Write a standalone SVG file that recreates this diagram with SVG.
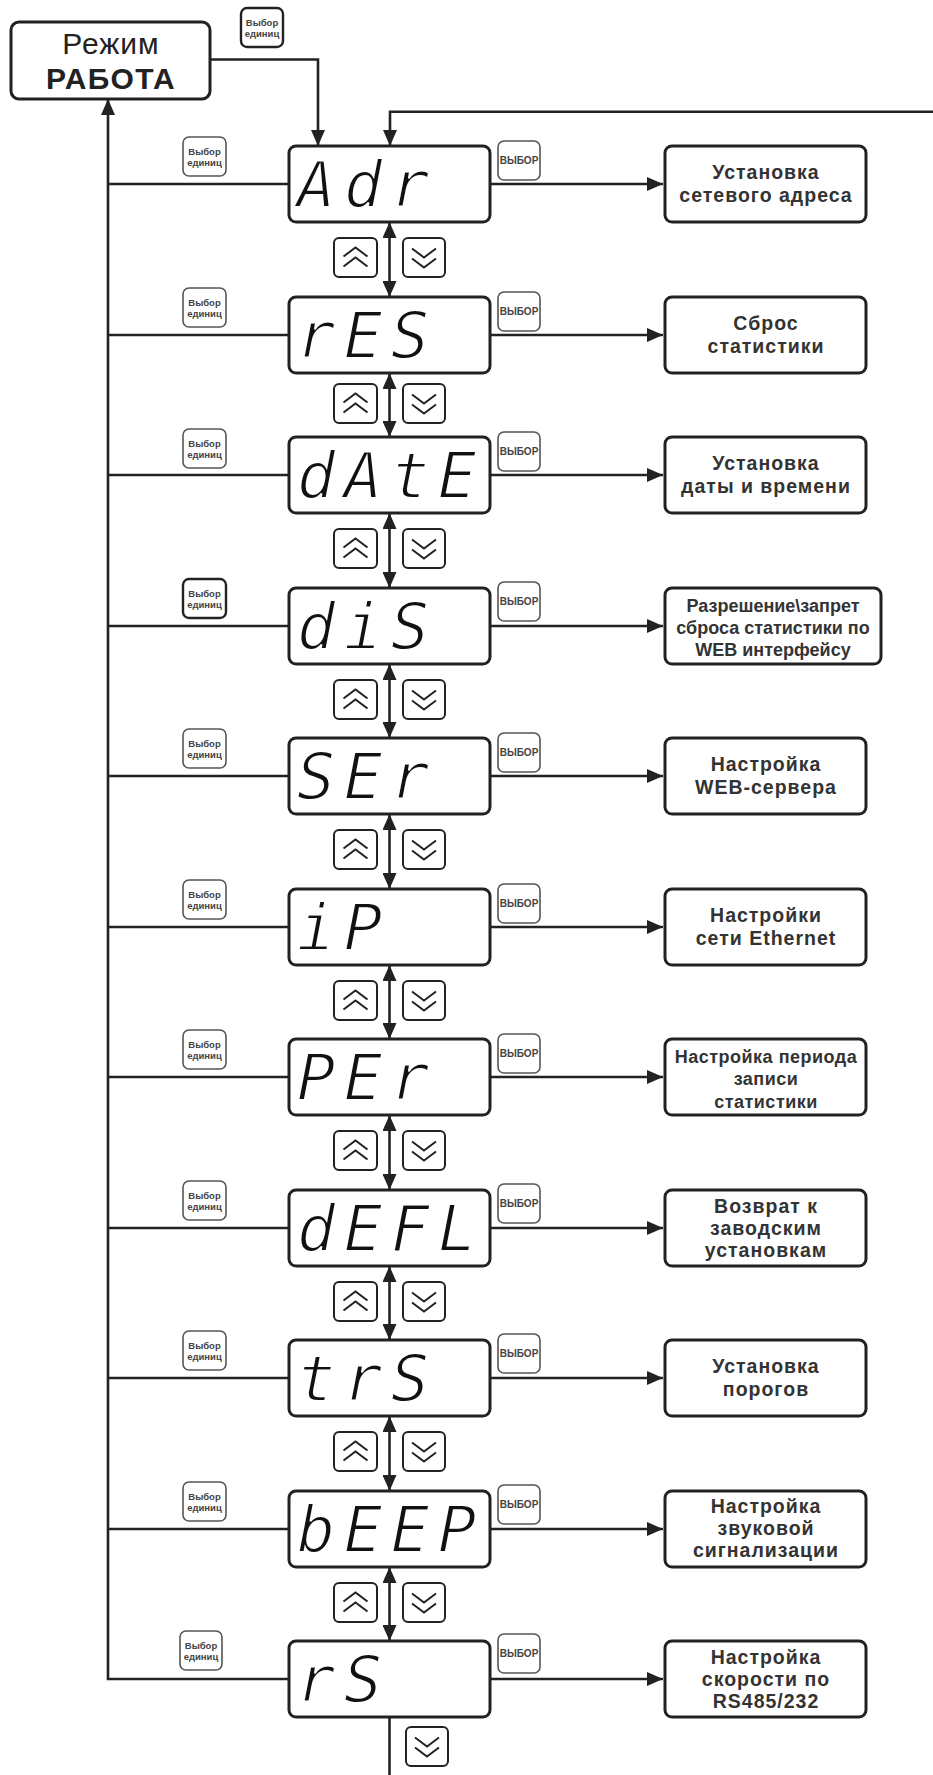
<svg xmlns="http://www.w3.org/2000/svg" width="933" height="1775" viewBox="0 0 933 1775">
<defs>
<style>
.ln{fill:none;stroke:#222;stroke-width:2.6}
.box{fill:#fff;stroke:#222;stroke-width:3}
.btn{fill:#fff;stroke:#555;stroke-width:1.6}
.btnd{fill:#fff;stroke:#222;stroke-width:2.4}
.ub{fill:#fff;stroke:#222;stroke-width:2}
.ico{fill:none;stroke:#222;stroke-width:2}
.bt{font-family:"Liberation Sans",Arial,sans-serif;font-weight:bold;font-size:9.5px;fill:#444;text-anchor:middle}
.bt2{font-family:"Liberation Sans",Arial,sans-serif;font-weight:bold;font-size:10px;fill:#444;text-anchor:middle}
.seg{font-family:"DejaVu Sans Mono",monospace;font-style:oblique;font-size:64px;fill:#111;stroke:#fff;stroke-width:1.8;text-anchor:middle}
.lbl{font-family:"Liberation Sans",Arial,sans-serif;font-weight:bold;font-size:19.5px;letter-spacing:1px;fill:#333;text-anchor:middle}
.lbs{font-family:"Liberation Sans",Arial,sans-serif;font-weight:bold;font-size:18px;fill:#333;text-anchor:middle}
.mode{font-family:"Liberation Sans",Arial,sans-serif;fill:#222;text-anchor:middle;font-size:30px}
</style>
<marker id="ah" markerUnits="userSpaceOnUse" viewBox="0 0 16 14" markerWidth="16" markerHeight="14" refX="16" refY="7" orient="auto-start-reverse">
<path d="M0,0 L16,7 L0,14 z" fill="#222"/>
</marker>
<g id="up"><path class="ico" d="M-12,-1 L0,-10 L12,-1 M-12,9 L0,0 L12,9"/></g>
<g id="dn"><path class="ico" d="M-12,1 L0,10 L12,1 M-12,-9 L0,0 L12,-9"/></g>
</defs>
<rect width="933" height="1775" fill="#fff"/>

<g id="connectors">
<path class="ln" d="M210,59.5 H318 V146" marker-end="url(#ah)"/>
<path class="ln" d="M933,111.7 H390 V146" marker-end="url(#ah)"/>
<path class="ln" d="M289,1679 H108 V99" marker-end="url(#ah)"/>
<path class="ln" d="M108,184 H289 M108,335 H289 M108,475 H289 M108,626 H289 M108,776 H289 M108,927 H289 M108,1077 H289 M108,1228 H289 M108,1378 H289 M108,1529 H289"/>
<path class="ln" d="M490,184 H663" marker-end="url(#ah)"/>
<path class="ln" d="M490,335 H663" marker-end="url(#ah)"/>
<path class="ln" d="M490,475 H663" marker-end="url(#ah)"/>
<path class="ln" d="M490,626 H663" marker-end="url(#ah)"/>
<path class="ln" d="M490,776 H663" marker-end="url(#ah)"/>
<path class="ln" d="M490,927 H663" marker-end="url(#ah)"/>
<path class="ln" d="M490,1077 H663" marker-end="url(#ah)"/>
<path class="ln" d="M490,1228 H663" marker-end="url(#ah)"/>
<path class="ln" d="M490,1378 H663" marker-end="url(#ah)"/>
<path class="ln" d="M490,1529 H663" marker-end="url(#ah)"/>
<path class="ln" d="M490,1679 H663" marker-end="url(#ah)"/>
<path class="ln" d="M389.5,222 V297" marker-start="url(#ah)" marker-end="url(#ah)"/>
<path class="ln" d="M389.5,373 V437" marker-start="url(#ah)" marker-end="url(#ah)"/>
<path class="ln" d="M389.5,513 V588" marker-start="url(#ah)" marker-end="url(#ah)"/>
<path class="ln" d="M389.5,664 V738" marker-start="url(#ah)" marker-end="url(#ah)"/>
<path class="ln" d="M389.5,814 V889" marker-start="url(#ah)" marker-end="url(#ah)"/>
<path class="ln" d="M389.5,965 V1039" marker-start="url(#ah)" marker-end="url(#ah)"/>
<path class="ln" d="M389.5,1115 V1190" marker-start="url(#ah)" marker-end="url(#ah)"/>
<path class="ln" d="M389.5,1266 V1340" marker-start="url(#ah)" marker-end="url(#ah)"/>
<path class="ln" d="M389.5,1416 V1491" marker-start="url(#ah)" marker-end="url(#ah)"/>
<path class="ln" d="M389.5,1567 V1641" marker-start="url(#ah)" marker-end="url(#ah)"/>
<path class="ln" d="M389.5,1717 V1775"/>
</g>

<g id="mode">
<rect class="box" x="11" y="22" width="199" height="77" rx="8"/>
<text class="mode" x="111" y="54" letter-spacing="1">Режим</text>
<text class="mode" x="111" y="89" font-weight="bold" letter-spacing="1.3">РАБОТА</text>
</g>
<g id="btn-top">
<rect class="btnd" x="241" y="8" width="42" height="39" rx="6"/>
<text class="bt" x="262" y="26">Выбор</text><text class="bt" x="262" y="37">единиц</text>
</g>

<!-- Row 1 -->
<g id="row-adr">
<rect class="btn" x="183" y="137" width="43" height="39" rx="6"/>
<text class="bt" x="204.5" y="155">Выбор</text><text class="bt" x="204.5" y="166">единиц</text>
<rect class="box" x="289" y="146" width="201" height="76" rx="7"/>
<text class="seg" x="316 363 410" y="207">Adr</text>
<rect class="btn" x="498" y="141" width="42" height="39" rx="6"/>
<text class="bt2" x="519" y="164">ВЫБОР</text>
</g>
<g id="res-adr"><rect class="box" x="665" y="146" width="201" height="76" rx="7"/>
<text class="lbl" x="766" y="179">Установка</text><text class="lbl" x="766" y="202">сетевого адреса</text></g>
<g id="nav-1"><rect class="ub" x="334" y="238" width="43" height="39" rx="5"/><use href="#up" x="355.5" y="257.5"/><rect class="ub" x="403" y="238" width="42" height="39" rx="5"/><use href="#dn" x="424" y="257.5"/></g>

<!-- Row 2 -->
<g id="row-res">
<rect class="btn" x="183" y="288" width="43" height="39" rx="6"/>
<text class="bt" x="204.5" y="306">Выбор</text><text class="bt" x="204.5" y="317">единиц</text>
<rect class="box" x="289" y="297" width="201" height="76" rx="7"/>
<text class="seg" x="316 363 410" y="358">rES</text>
<rect class="btn" x="498" y="292" width="42" height="39" rx="6"/>
<text class="bt2" x="519" y="315">ВЫБОР</text>
</g>
<g id="res-res"><rect class="box" x="665" y="297" width="201" height="76" rx="7"/>
<text class="lbl" x="766" y="330">Сброс</text><text class="lbl" x="766" y="352.5">статистики</text></g>
<g id="nav-2"><rect class="ub" x="334" y="384" width="43" height="39" rx="5"/><use href="#up" x="355.5" y="403.5"/><rect class="ub" x="403" y="384" width="42" height="39" rx="5"/><use href="#dn" x="424" y="403.5"/></g>

<!-- Row 3 -->
<g id="row-date">
<rect class="btn" x="183" y="429" width="43" height="39" rx="6"/>
<text class="bt" x="204.5" y="447">Выбор</text><text class="bt" x="204.5" y="458">единиц</text>
<rect class="box" x="289" y="437" width="201" height="76" rx="7"/>
<text class="seg" x="316 363 410 457" y="498">dAtE</text>
<rect class="btn" x="498" y="432" width="42" height="39" rx="6"/>
<text class="bt2" x="519" y="455">ВЫБОР</text>
</g>
<g id="res-date"><rect class="box" x="665" y="437" width="201" height="76" rx="7"/>
<text class="lbl" x="766" y="470">Установка</text><text class="lbl" x="766" y="492.5">даты и времени</text></g>
<g id="nav-3"><rect class="ub" x="334" y="529" width="43" height="39" rx="5"/><use href="#up" x="355.5" y="548.5"/><rect class="ub" x="403" y="529" width="42" height="39" rx="5"/><use href="#dn" x="424" y="548.5"/></g>

<!-- Row 4 -->
<g id="row-dis">
<rect class="btnd" x="183" y="579" width="43" height="39" rx="6"/>
<text class="bt" x="204.5" y="597">Выбор</text><text class="bt" x="204.5" y="608">единиц</text>
<rect class="box" x="289" y="588" width="201" height="76" rx="7"/>
<text class="seg" x="316 363 410" y="649">diS</text>
<rect class="btn" x="498" y="582" width="42" height="39" rx="6"/>
<text class="bt2" x="519" y="605">ВЫБОР</text>
</g>
<g id="res-dis"><rect class="box" x="665" y="588" width="216" height="76" rx="7"/>
<text class="lbs" x="773" y="611.5" font-size="17.7">Разрешение\запрет</text><text class="lbs" x="773" y="634" font-size="17.7">сброса статистики по</text><text class="lbs" x="773" y="655.5" font-size="17.7">WEB интерфейсу</text></g>
<g id="nav-4"><rect class="ub" x="334" y="680" width="43" height="39" rx="5"/><use href="#up" x="355.5" y="699.5"/><rect class="ub" x="403" y="680" width="42" height="39" rx="5"/><use href="#dn" x="424" y="699.5"/></g>

<!-- Row 5 -->
<g id="row-ser">
<rect class="btn" x="183" y="729" width="43" height="39" rx="6"/>
<text class="bt" x="204.5" y="747">Выбор</text><text class="bt" x="204.5" y="758">единиц</text>
<rect class="box" x="289" y="738" width="201" height="76" rx="7"/>
<text class="seg" x="316 363 410" y="799">SEr</text>
<rect class="btn" x="498" y="733" width="42" height="39" rx="6"/>
<text class="bt2" x="519" y="756">ВЫБОР</text>
</g>
<g id="res-ser"><rect class="box" x="665" y="738" width="201" height="76" rx="7"/>
<text class="lbl" x="766" y="771">Настройка</text><text class="lbl" x="766" y="793.5">WEB-сервера</text></g>
<g id="nav-5"><rect class="ub" x="334" y="830" width="43" height="39" rx="5"/><use href="#up" x="355.5" y="849.5"/><rect class="ub" x="403" y="830" width="42" height="39" rx="5"/><use href="#dn" x="424" y="849.5"/></g>

<!-- Row 6 -->
<g id="row-ip">
<rect class="btn" x="183" y="880" width="43" height="39" rx="6"/>
<text class="bt" x="204.5" y="898">Выбор</text><text class="bt" x="204.5" y="909">единиц</text>
<rect class="box" x="289" y="889" width="201" height="76" rx="7"/>
<text class="seg" x="316 363" y="950">iP</text>
<rect class="btn" x="498" y="884" width="42" height="39" rx="6"/>
<text class="bt2" x="519" y="907">ВЫБОР</text>
</g>
<g id="res-ip"><rect class="box" x="665" y="889" width="201" height="76" rx="7"/>
<text class="lbl" x="766" y="922">Настройки</text><text class="lbl" x="766" y="944.5">сети Ethernet</text></g>
<g id="nav-6"><rect class="ub" x="334" y="981" width="43" height="39" rx="5"/><use href="#up" x="355.5" y="1000.5"/><rect class="ub" x="403" y="981" width="42" height="39" rx="5"/><use href="#dn" x="424" y="1000.5"/></g>

<!-- Row 7 -->
<g id="row-per">
<rect class="btn" x="183" y="1030" width="43" height="39" rx="6"/>
<text class="bt" x="204.5" y="1048">Выбор</text><text class="bt" x="204.5" y="1059">единиц</text>
<rect class="box" x="289" y="1039" width="201" height="76" rx="7"/>
<text class="seg" x="316 363 410" y="1100">PEr</text>
<rect class="btn" x="498" y="1034" width="42" height="39" rx="6"/>
<text class="bt2" x="519" y="1057">ВЫБОР</text>
</g>
<g id="res-per"><rect class="box" x="665" y="1039" width="201" height="76" rx="7"/>
<text class="lbs" x="766" y="1062.5" letter-spacing="0.5">Настройка периода</text><text class="lbs" x="766" y="1085" letter-spacing="0.5">записи</text><text class="lbs" x="766" y="1107.5" letter-spacing="0.5">статистики</text></g>
<g id="nav-7"><rect class="ub" x="334" y="1131" width="43" height="39" rx="5"/><use href="#up" x="355.5" y="1150.5"/><rect class="ub" x="403" y="1131" width="42" height="39" rx="5"/><use href="#dn" x="424" y="1150.5"/></g>

<!-- Row 8 -->
<g id="row-defl">
<rect class="btn" x="183" y="1181" width="43" height="39" rx="6"/>
<text class="bt" x="204.5" y="1199">Выбор</text><text class="bt" x="204.5" y="1210">единиц</text>
<rect class="box" x="289" y="1190" width="201" height="76" rx="7"/>
<text class="seg" x="316 363 410 457" y="1251">dEFL</text>
<rect class="btn" x="498" y="1184" width="42" height="39" rx="6"/>
<text class="bt2" x="519" y="1207">ВЫБОР</text>
</g>
<g id="res-defl"><rect class="box" x="665" y="1190" width="201" height="76" rx="7"/>
<text class="lbl" x="766" y="1212.5">Возврат к</text><text class="lbl" x="766" y="1234.5">заводским</text><text class="lbl" x="766" y="1256.5">установкам</text></g>
<g id="nav-8"><rect class="ub" x="334" y="1282" width="43" height="39" rx="5"/><use href="#up" x="355.5" y="1301.5"/><rect class="ub" x="403" y="1282" width="42" height="39" rx="5"/><use href="#dn" x="424" y="1301.5"/></g>

<!-- Row 9 -->
<g id="row-trs">
<rect class="btn" x="183" y="1331" width="43" height="39" rx="6"/>
<text class="bt" x="204.5" y="1349">Выбор</text><text class="bt" x="204.5" y="1360">единиц</text>
<rect class="box" x="289" y="1340" width="201" height="76" rx="7"/>
<text class="seg" x="316 363 410" y="1401">trS</text>
<rect class="btn" x="498" y="1334" width="42" height="39" rx="6"/>
<text class="bt2" x="519" y="1357">ВЫБОР</text>
</g>
<g id="res-trs"><rect class="box" x="665" y="1340" width="201" height="76" rx="7"/>
<text class="lbl" x="766" y="1373.3">Установка</text><text class="lbl" x="766" y="1395.5">порогов</text></g>
<g id="nav-9"><rect class="ub" x="334" y="1432" width="43" height="39" rx="5"/><use href="#up" x="355.5" y="1451.5"/><rect class="ub" x="403" y="1432" width="42" height="39" rx="5"/><use href="#dn" x="424" y="1451.5"/></g>

<!-- Row 10 -->
<g id="row-beep">
<rect class="btn" x="183" y="1482" width="43" height="39" rx="6"/>
<text class="bt" x="204.5" y="1500">Выбор</text><text class="bt" x="204.5" y="1511">единиц</text>
<rect class="box" x="289" y="1491" width="201" height="76" rx="7"/>
<text class="seg" x="316 363 410 457" y="1552">bEEP</text>
<rect class="btn" x="498" y="1485" width="42" height="39" rx="6"/>
<text class="bt2" x="519" y="1508">ВЫБОР</text>
</g>
<g id="res-beep"><rect class="box" x="665" y="1491" width="201" height="76" rx="7"/>
<text class="lbl" x="766" y="1513">Настройка</text><text class="lbl" x="766" y="1535">звуковой</text><text class="lbl" x="766" y="1557">сигнализации</text></g>
<g id="nav-10"><rect class="ub" x="334" y="1583" width="43" height="39" rx="5"/><use href="#up" x="355.5" y="1602.5"/><rect class="ub" x="403" y="1583" width="42" height="39" rx="5"/><use href="#dn" x="424" y="1602.5"/></g>

<!-- Row 11 -->
<g id="row-rs">
<rect class="btn" x="180" y="1631" width="42" height="39" rx="6"/>
<text class="bt" x="201" y="1649">Выбор</text><text class="bt" x="201" y="1660">единиц</text>
<rect class="box" x="289" y="1641" width="201" height="76" rx="7"/>
<text class="seg" x="316 363" y="1702">rS</text>
<rect class="btn" x="498" y="1634" width="42" height="39" rx="6"/>
<text class="bt2" x="519" y="1657">ВЫБОР</text>
</g>
<g id="res-rs"><rect class="box" x="665" y="1641" width="201" height="76" rx="7"/>
<text class="lbl" x="766" y="1663.5">Настройка</text><text class="lbl" x="766" y="1686">скорости по</text><text class="lbl" x="766" y="1708">RS485/232</text></g>
<g id="nav-11"><rect class="ub" x="406" y="1727" width="42" height="39" rx="5"/><use href="#dn" x="427" y="1746.5"/></g>
</svg>
